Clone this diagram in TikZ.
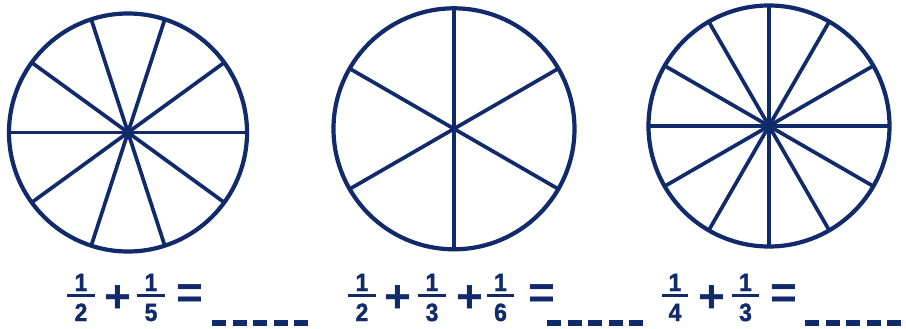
\documentclass[tikz,border=0pt]{standalone}
\usepackage{fontspec}
\setmainfont{Liberation Sans}
\newfontfamily\digitfont[FakeBold=1.4,FakeStretch=0.92]{Liberation Sans Bold}
\definecolor{navy}{RGB}{16,42,108}
\begin{document}
\begin{tikzpicture}[x=1pt,y=-1pt,
  wheel/.style={circle,draw=navy,line width=4.2pt,outer sep=0pt,inner sep=0pt},
  spoke/.style={draw=navy,line width=3.7pt},
  digit/.style={text=navy,font=\fontsize{25}{25}\digitfont,inner sep=0pt,anchor=base},
  sym/.style={text=navy,font=\fontsize{46}{46}\selectfont\bfseries,inner sep=0pt},
  fbar/.style={draw=navy,line width=3pt},
  blank/.style={draw=navy,line width=6pt,dash pattern=on 14pt off 6.5pt}]
\useasboundingbox (0,0) rectangle (906,329);
% wheels
\node[wheel,minimum size=238pt] (c1) at (128,132.5) {};
\node[wheel,minimum size=241pt] (c2) at (454,128.8) {};
\node[wheel,minimum size=241pt] (c3) at (769,126) {};
\foreach \a [evaluate=\a as \b using int(\a+180)] in {0,36,72,108,144}
  \draw[spoke] (c1.\a) -- (c1.\b);
\foreach \a [evaluate=\a as \b using int(\a+180)] in {30,90,150}
  \draw[spoke] (c2.\a) -- (c2.\b);
\foreach \a [evaluate=\a as \b using int(\a+180)] in {0,30,60,90,120,150}
  \draw[spoke] (c3.\a) -- (c3.\b);
% equation 1
\node[digit] (e1n1) at (81,291) {1};
\node[digit] (e1d1) at (81,321) {2};
\draw[fbar] (67,295) -- (95,295);
\node[sym] (e1p1) at (117.5,299) {+};
\node[digit] (e1n2) at (151,291) {1};
\node[digit] (e1d2) at (151,321) {5};
\draw[fbar] (137,295) -- (165,295);
\node[sym] (e1eq) at (189.5,297) {=};
\coordinate (e1b1) at (212,323);
\coordinate (e1b2) at (308,323);
\draw[blank] (e1b1) -- (e1b2);
% equation 2
\node[digit] (e2n1) at (362,291) {1};
\node[digit] (e2d1) at (362,321) {2};
\draw[fbar] (348,295) -- (376,295);
\node[sym] (e2p1) at (397.5,299) {+};
\node[digit] (e2n2) at (432,291) {1};
\node[digit] (e2d2) at (432,321) {3};
\draw[fbar] (418,295) -- (446,295);
\node[sym] (e2p2) at (469.5,299) {+};
\node[digit] (e2n3) at (500.5,291) {1};
\node[digit] (e2d3) at (500.5,321) {6};
\draw[fbar] (487,295) -- (514,295);
\node[sym] (e2eq) at (541.5,297) {=};
\coordinate (e2b1) at (547,323);
\coordinate (e2b2) at (643,323);
\draw[blank] (e2b1) -- (e2b2);
% equation 3
\node[digit] (e3n1) at (675,291) {1};
\node[digit] (e3d1) at (675,321) {4};
\draw[fbar] (662,295) -- (688,295);
\node[sym] (e3p1) at (711.5,299) {+};
\node[digit] (e3n2) at (745.5,291) {1};
\node[digit] (e3d2) at (745.5,321) {3};
\draw[fbar] (732,295) -- (759,295);
\node[sym] (e3eq) at (783.5,297) {=};
\coordinate (e3b1) at (805,323);
\coordinate (e3b2) at (901,323);
\draw[blank] (e3b1) -- (e3b2);
\end{tikzpicture}
\end{document}
